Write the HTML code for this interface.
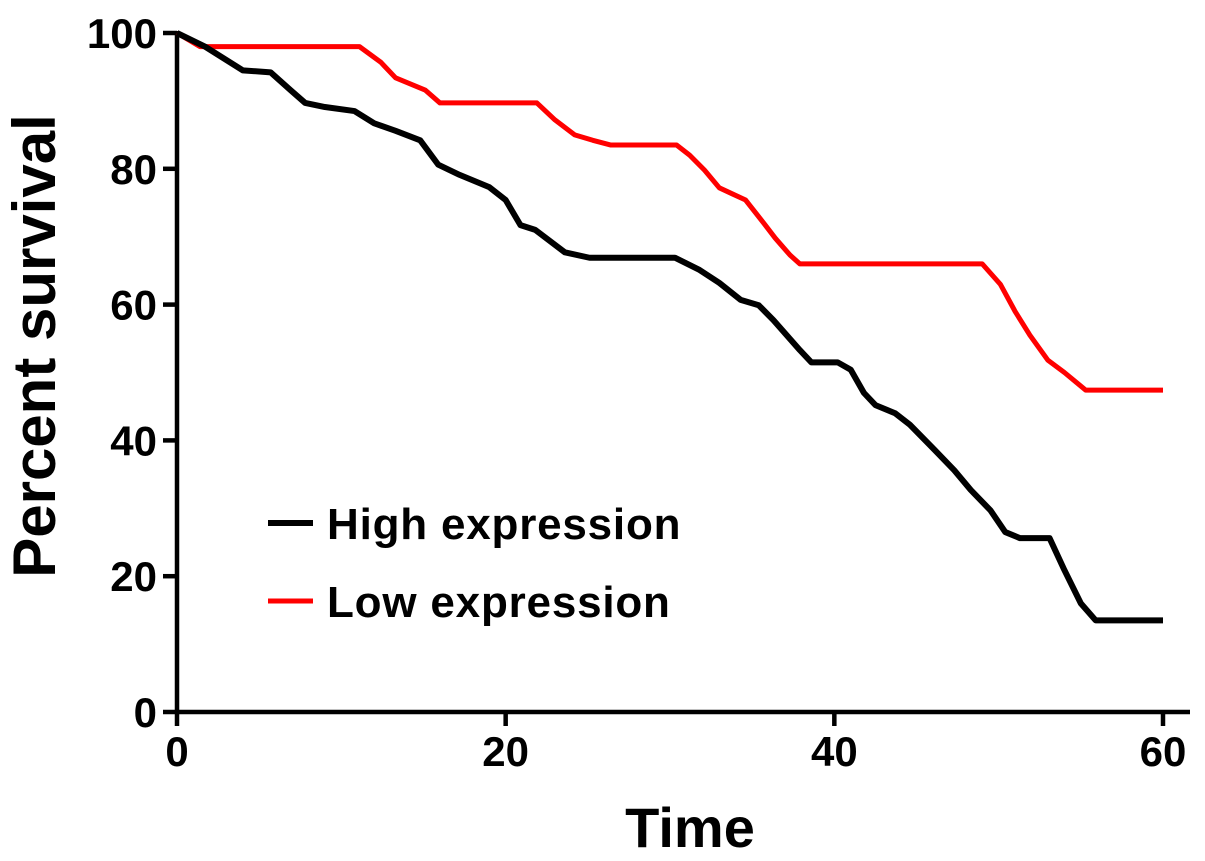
<!DOCTYPE html>
<html><head><meta charset="utf-8"><style>
html,body{margin:0;padding:0;background:#fff;}
svg{display:block;font-family:"Liberation Sans",Arial,sans-serif;font-weight:bold;}
</style></head><body>
<svg id="chart" width="1205" height="861" viewBox="0 0 1205 861">
<g id="axes"></g>
<g id="series"></g>
<text x="690" y="847" text-anchor="middle" font-size="56">Time</text>
<text transform="translate(55,346) rotate(-90)" text-anchor="middle" font-size="60">Percent survival</text>
<g>
<line x1="268" y1="523" x2="313" y2="523" stroke="#000" stroke-width="6"/>
<text x="327" y="539" font-size="44" letter-spacing="0.8">High expression</text>
<line x1="268" y1="601" x2="313" y2="601" stroke="#f00" stroke-width="5"/>
<text x="327" y="617" font-size="44" letter-spacing="0.8">Low expression</text>
</g>
</svg>
<script>
const xTicks=[0,20,40,60];
const yTicks=[0,20,40,60,80,100];
const highTime=[0,1.7,4,5.7,6.9,7.8,9,10.8,12,13.3,14.8,15.9,17.2,19,20,20.9,21.8,23.6,25.1,30.3,31.8,33,34.3,35.4,36.3,37.9,38.6,40.2,41,41.8,42.5,43.7,44.6,46.1,47.3,48.3,49.5,50.4,51.3,53.1,54,55,55.9,60];
const highSurv=[100,98,94.5,94.2,91.6,89.7,89.1,88.5,86.7,85.6,84.2,80.6,79.1,77.3,75.4,71.7,71,67.7,66.9,66.9,65.1,63.2,60.7,59.9,57.7,53.3,51.5,51.5,50.4,47,45.2,44,42.3,38.6,35.6,32.7,29.7,26.5,25.6,25.6,20.9,16,13.5,13.5];
const lowTime=[0,1.4,11.1,12.4,13.3,15.1,16,21.9,23,24.2,25.3,26.4,30.4,31.2,32.1,33,33.8,34.6,35.8,36.4,37.3,37.9,49,50.1,51,51.9,53,54,55.3,60];
const lowSurv=[100,98,98,95.7,93.4,91.6,89.7,89.7,87.2,85,84.2,83.5,83.5,82,79.8,77.2,76.3,75.4,71.7,69.8,67.3,66,66,63,59,55.5,51.8,50,47.4,47.4];
const NS="http://www.w3.org/2000/svg";
const X=t=>177+t*(1163-177)/60;
const Y=v=>712-v*(712-33)/100;
const axes=document.getElementById('axes'),series=document.getElementById('series');
function mk(tag,attrs,parent){const e=document.createElementNS(NS,tag);for(const k in attrs)e.setAttribute(k,attrs[k]);parent.appendChild(e);return e;}
let e=mk('line',{x1:177,y1:31,x2:177,y2:714,stroke:'#000','stroke-width':4.5},axes);


e=mk('line',{x1:175,y1:712,x2:1190,y2:712,stroke:'#000','stroke-width':4.5},axes);


yTicks.forEach(v=>{
 let t=mk('line',{x1:163,y1:Y(v),x2:177,y2:Y(v),stroke:'#000','stroke-width':4.5},axes);
 
 
 let l=mk('text',{x:157,y:Y(v)+15,'text-anchor':'end','font-size':42},axes);
 l.textContent=v;
 
 
});
xTicks.forEach(v=>{
 let t=mk('line',{x1:X(v),y1:712,x2:X(v),y2:726,stroke:'#000','stroke-width':4.5},axes);
 
 
 let l=mk('text',{x:X(v),y:766,'text-anchor':'middle','font-size':42},axes);
 l.textContent=v;
 
 
});
function draw(ts,vs,color,w,name){
 const p=mk('polyline',{points:ts.map((t,i)=>X(t)+','+Y(vs[i])).join(' '),fill:'none',stroke:color,'stroke-width':w,'stroke-linejoin':'round'},series);
 
 
}
draw(lowTime,lowSurv,'#f00',5,'low-expression-curve');
draw(highTime,highSurv,'#000',6,'high-expression-curve');
</script>
</body></html>
